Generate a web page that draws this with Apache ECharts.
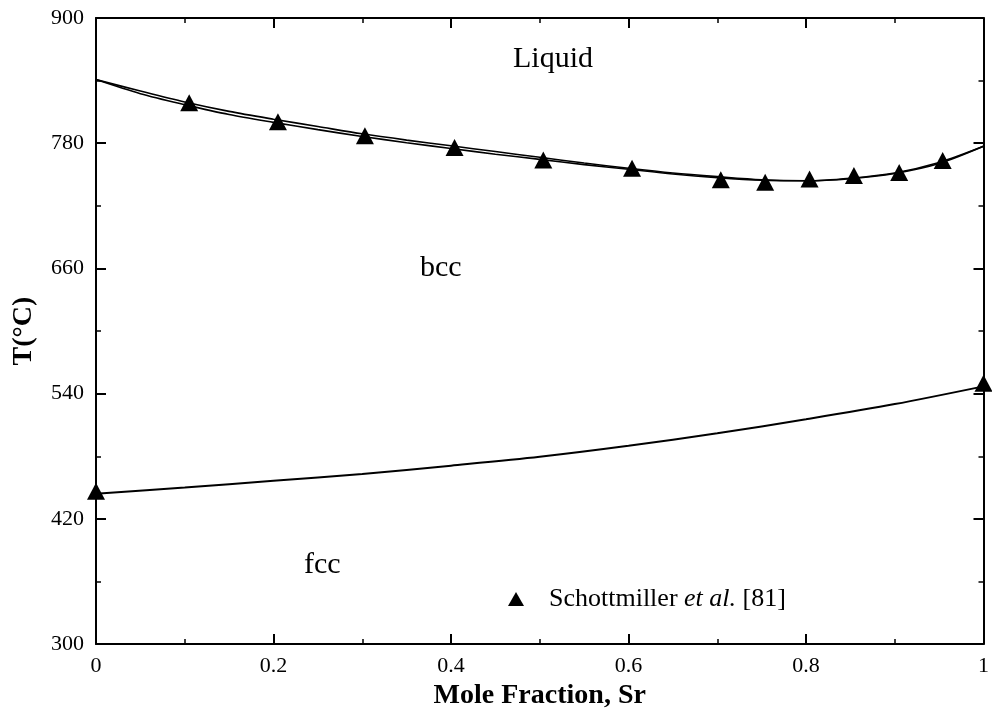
<!DOCTYPE html>
<html>
<head>
<meta charset="utf-8">
<script src="https://cdn.jsdelivr.net/npm/echarts@6/dist/echarts.min.js"></script>
<style>html,body{margin:0;padding:0;background:#fff;overflow:hidden;}#c{width:992px;height:715px;}</style>
</head>
<body>
<div id="c"></div>
<script>
// ---- data ----
var curveX = [0, 0.05, 0.1, 0.15, 0.2, 0.25, 0.3, 0.35, 0.4, 0.45, 0.5, 0.55, 0.6, 0.65, 0.7, 0.75, 0.8, 0.85, 0.9, 0.95, 1.0];
var liquidusT = [841, 830, 819.5, 810.5, 803, 796, 789, 783, 777.5, 772, 766.5, 761, 756, 751.5, 748, 745, 744, 746.5, 751.5, 761.5, 777];
var solidusT  = [841, 827.5, 817, 807.5, 800, 793, 786.5, 780.5, 775, 769.5, 764.5, 759.5, 755, 750.5, 747, 744.5, 744, 746, 751, 760.5, 777];
var fccX = [0, 0.1, 0.2, 0.3, 0.4, 0.5, 0.6, 0.7, 0.8, 0.9, 1.0];
var fccT = [444, 450, 456.5, 463, 471, 479.5, 490, 502, 515.5, 530, 547];
var expX = [0, 0.105, 0.205, 0.303, 0.404, 0.504, 0.604, 0.704, 0.754, 0.804, 0.854, 0.905, 0.954, 1.0];
var expT = [446.5, 818.8, 800.6, 787.2, 776, 764, 756, 745, 742.6, 745.7, 749.1, 752, 763.4, 550];
var xTicks = ['0', '0.2', '0.4', '0.6', '0.8', '1'];
var yTicks = ['300', '420', '540', '660', '780', '900'];
var seriesName = 'Schottmiller et al. [81]';

function zip(a, b) { return a.map(function (v, i) { return [v, b[i]]; }); }

var FONT = 'Liberation Serif';
var chart = echarts.init(document.getElementById('c'), null, { renderer: 'canvas' });

function axisStyle(extra) {
  var base = {
    axisLine: { show: true, onZero: false, lineStyle: { color: '#000', width: 2 } },
    axisTick: { show: true, inside: true, length: 10, lineStyle: { color: '#000', width: 2 } },
    minorTick: { show: true, splitNumber: 2, length: 5, lineStyle: { color: '#000', width: 1.5 } },
    splitLine: { show: false },
    minorSplitLine: { show: false }
  };
  return Object.assign(base, extra);
}

chart.setOption({
  animation: false,
  backgroundColor: '#fff',
  grid: { left: 96, right: 4, top: 18, bottom: 70, containLabel: false },
  xAxis: [
    axisStyle({
      type: 'value', min: 0, max: 1, interval: 0.2, position: 'bottom',
      axisLabel: {
        margin: 11, color: '#000', fontFamily: FONT, fontSize: 22,
        formatter: function (v) { return xTicks[Math.round(v / 0.2)]; }
      },
      name: 'Mole Fraction, Sr', nameLocation: 'middle', nameGap: 32,
      nameTextStyle: { fontFamily: FONT, fontSize: 28, fontWeight: 'bold', color: '#000' }
    }),
    axisStyle({
      type: 'value', min: 0, max: 1, interval: 0.2, position: 'top',
      axisLabel: { show: false }
    })
  ],
  yAxis: [
    axisStyle({
      type: 'value', min: 300, max: 900, interval: 120, position: 'left',
      axisLabel: {
        margin: 12, color: '#000', fontFamily: FONT, fontSize: 22,
        formatter: function (v) { return yTicks[Math.round((v - 300) / 120)]; }
      },
      name: 'T(°C)', nameLocation: 'middle', nameGap: 58, nameRotate: 90,
      nameTextStyle: { fontFamily: FONT, fontSize: 28, fontWeight: 'bold', color: '#000' }
    }),
    axisStyle({
      type: 'value', min: 300, max: 900, interval: 120, position: 'right',
      axisLabel: { show: false }
    })
  ],
  legend: {
    left: 508, top: 586, padding: 0, itemWidth: 16, itemHeight: 14,
    data: [{ name: seriesName, icon: 'triangle', itemStyle: { color: '#000', opacity: 1 } }],
    formatter: function () { return '{g|}Schottmiller {i|et al.} [81]'; },
    textStyle: {
      fontFamily: FONT, fontSize: 26, color: '#000',
      rich: {
        g: { width: 20 },
        i: { fontFamily: FONT, fontSize: 26, fontStyle: 'italic', color: '#000' }
      }
    }
  },
  graphic: [
    { type: 'text', left: 513, top: 44, style: { text: 'Liquid', font: '30px "Liberation Serif"', fill: '#000' } },
    { type: 'text', left: 420, top: 253, style: { text: 'bcc', font: '30px "Liberation Serif"', fill: '#000' } },
    { type: 'text', left: 304, top: 550, style: { text: 'fcc', font: '30px "Liberation Serif"', fill: '#000' } }
  ],
  series: [
    { type: 'line', name: 'liquidus', data: zip(curveX, liquidusT), smooth: 0.3, symbol: 'none',
      lineStyle: { color: '#000', width: 1.6 }, silent: true },
    { type: 'line', name: 'solidus', data: zip(curveX, solidusT), smooth: 0.3, symbol: 'none',
      lineStyle: { color: '#000', width: 1.6 }, silent: true },
    { type: 'line', name: 'fcc/bcc', data: zip(fccX, fccT), smooth: 0.3, symbol: 'none',
      lineStyle: { color: '#000', width: 2 }, silent: true },
    { type: 'scatter', name: seriesName, data: zip(expX, expT), symbol: 'triangle', symbolSize: [18, 17],
      itemStyle: { color: '#000', opacity: 1 }, clip: false, z: 5 }
  ]
});
</script>
</body>
</html>
